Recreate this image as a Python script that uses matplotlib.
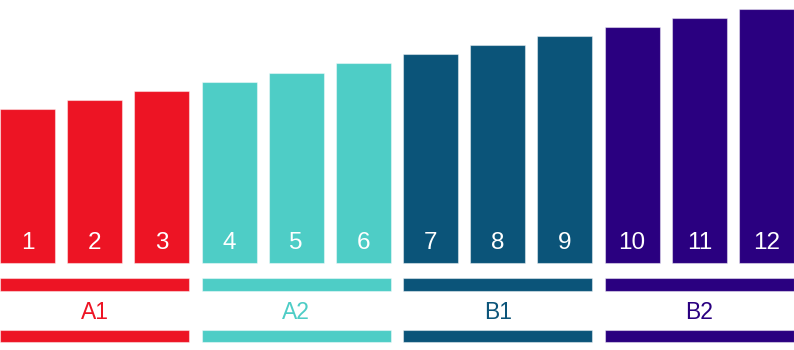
import matplotlib.pyplot as plt
import matplotlib.patches as mpatches

plt.rcParams['font.family'] = ['Liberation Sans', 'DejaVu Sans']

# data
bar_labels = ["1", "2", "3", "4", "5", "6", "7", "8", "9", "10", "11", "12"]
values = [17, 18, 19, 20, 21, 22, 23, 24, 25, 26, 27, 28]
groups = ["A1", "A2", "B1", "B2"]
group_colors = ["#ED1424", "#4ECDC6", "#0B5479", "#2A0080"]
group_size = 3

fig = plt.figure(figsize=(7.94, 3.5), dpi=100)
ax = fig.add_axes([0, 0, 1, 1])

w = 0.82
xs = list(range(len(values)))
colors = [group_colors[i // group_size] for i in xs]
ax.bar(xs, values, width=w, color=colors, edgecolor=(1, 1, 1, 0.45), linewidth=0.8)

for x, lab in zip(xs, bar_labels):
    ax.text(x, 2.2, lab, ha='center', va='center', color='white', fontsize=17.5)

# group bands and labels
for g, (name, col) in enumerate(zip(groups, group_colors)):
    left = g * group_size - w / 2
    right = (g + 1) * group_size - 1 + w / 2
    for y0, y1 in [(-3.09, -1.65), (-8.71, -7.39)]:
        ax.add_patch(mpatches.Rectangle((left, y0), right - left, y1 - y0,
                                        facecolor=col, edgecolor=(1, 1, 1, 0.45), linewidth=0.8))
    ax.text((left + right) / 2, -5.45, name, ha='center', va='center', color=col, fontsize=16.5)

ax.set_xlim(-w / 2, len(values) - 1 + w / 2)
ax.set_ylim(-9.59, 29.0)
ax.axis('off')

fig.savefig("out.png", dpi=100)
